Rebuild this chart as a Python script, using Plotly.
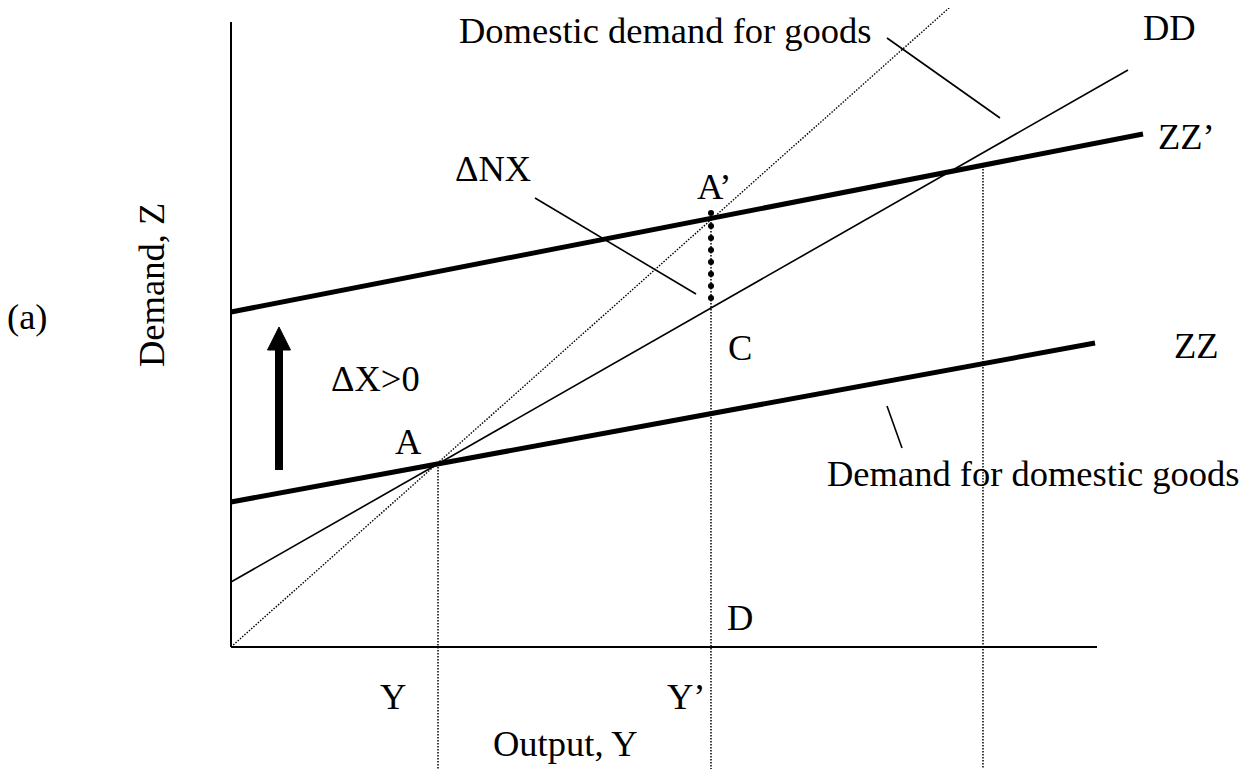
import plotly.graph_objects as go

# ---- data (economic units; origin at the axes' corner) ----
axis_x = [0, 86.6]           # horizontal axis extent
axis_y = [0, 62.5]           # vertical axis extent

zz_x = [0, 86.4]
zz_y = [14.5, 30.4]          # Demand for domestic goods (ZZ)
zzp_x = [0, 91.2]
zzp_y = [33.5, 51.3]         # After export increase (ZZ')
dd_x = [0, 89.7]
dd_y = [6.5, 57.7]           # Domestic demand for goods (DD)
diag_x = [0, 71.9]
diag_y = [0, 64.0]           # 45-degree line

drop_x = [20.7, 48.0, 75.2]          # Y, Y', and right equilibrium
drop_top = [18.3, 43.1, 48.1]
drop_bottom = -13.0

nx_dots_y = [43.4, 42.1, 40.9, 39.7, 38.5, 37.3, 36.1, 34.9]   # ΔNX dotted segment A'–C
nx_dots_x = 48.0

arrow_x = 4.8
arrow_base, arrow_neck, arrow_tip = 17.7, 29.7, 32.0
arrow_half = 1.15

pointers = [
    ([65.6, 76.9], [60.9, 52.9]),   # Domestic demand for goods
    ([30.4, 46.5], [44.9, 35.3]),   # ΔNX
    ([65.6, 67.1], [24.1, 19.9]),   # Demand for domestic goods
]

labels = ["Domestic demand for goods", "DD", "ZZ’", "ZZ", "ΔNX", "A’", "C",
          "ΔX>0", "A", "Demand for domestic goods", "D", "Y", "Y’", "Output, Y", "(a)"]
label_x = [43.4, 93.8, 95.5, 96.5, 26.2, 48.3, 50.9, 14.4, 17.7, 80.2, 50.9, 16.2, 45.5, 33.4, -20.4]
label_y = [61.7, 62.0, 51.1, 30.2, 47.9, 46.1, 30.0, 26.9, 20.6, 17.35, 3.0, -4.9, -4.9, -9.6, 33.1]

yaxis_title = "Demand, Z"
yaxis_title_pos = (-8.0, 36.2)

FONT = "Liberation Serif, Times New Roman, serif"
FS = 36.5

fig = go.Figure()

def line(x, y, width, dash="solid", color="black"):
    fig.add_trace(go.Scatter(x=x, y=y, mode="lines",
                             line=dict(color=color, width=width, dash=dash),
                             hoverinfo="skip", showlegend=False))

# axes
line([0, 0], axis_y, 2)
line(axis_x, [0, 0], 2)

# dotted drop lines
for xv, yt in zip(drop_x, drop_top):
    line([xv, xv], [yt, drop_bottom], 1.5, dash="1.5px,1.5px")

# 45-degree line
line(diag_x, diag_y, 1.4, dash="1.5px,1.5px")

# DD
line(dd_x, dd_y, 1.6)
# ZZ and ZZ'
line(zz_x, zz_y, 5)
line(zzp_x, zzp_y, 5)

# ΔNX big dots
fig.add_trace(go.Scatter(x=[nx_dots_x] * len(nx_dots_y), y=nx_dots_y, mode="markers",
                         marker=dict(color="black", size=6), hoverinfo="skip", showlegend=False))

# pointer lines
for px, py in pointers:
    line(px, py, 1.6)

# arrow ΔX>0
line([arrow_x, arrow_x], [arrow_base, arrow_neck + 0.3], 8)
fig.add_trace(go.Scatter(x=[arrow_x - arrow_half, arrow_x + arrow_half, arrow_x, arrow_x - arrow_half],
                         y=[arrow_neck, arrow_neck, arrow_tip, arrow_neck],
                         mode="lines", fill="toself", fillcolor="black",
                         line=dict(color="black", width=1), hoverinfo="skip", showlegend=False))

for t, xv, yv in zip(labels, label_x, label_y):
    fig.add_annotation(x=xv, y=yv, text=t, showarrow=False, xanchor="center", yanchor="middle",
                       font=dict(family=FONT, size=FS, color="black"))

fig.add_annotation(x=yaxis_title_pos[0], y=yaxis_title_pos[1], text=yaxis_title, showarrow=False,
                   textangle=-90, xanchor="center", yanchor="middle",
                   font=dict(family=FONT, size=FS, color="black"))

fig.update_layout(
    width=1258, height=769, autosize=False,
    margin=dict(l=0, r=0, t=0, b=0),
    paper_bgcolor="white", plot_bgcolor="white",
    xaxis=dict(range=[-22.3, 103.5], visible=False, fixedrange=True),
    yaxis=dict(range=[-13.0, 63.9], visible=False, fixedrange=True),
)

fig.write_html("out.html")
